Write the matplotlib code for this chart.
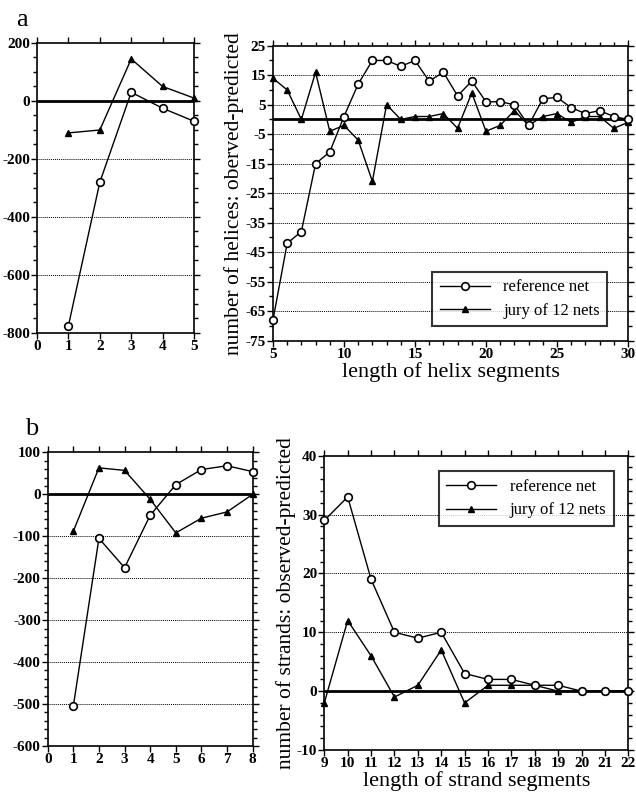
import numpy as np
import matplotlib.pyplot as plt
from matplotlib.ticker import MultipleLocator, FixedLocator

plt.rcParams['font.family'] = ['Liberation Serif', 'DejaVu Serif']
plt.rcParams['axes.unicode_minus'] = False
plt.rcParams['font.weight'] = 'bold'  # tick labels are bold in the scan

# panel a, left: short helices (1-5)
helix_short_x = [1, 2, 3, 4, 5]
helix_short_ref = [-775, -280, 30, -25, -70]
helix_short_jury = [-110, -100, 145, 50, 10]

# panel a, right: helix lengths 5-30
helix_x = list(range(5, 31))
helix_ref = [-68, -42, -38, -15, -11, 1, 12, 20, 20, 18, 20, 13, 16, 8, 13,
             6, 6, 5, -2, 7, 7.5, 4, 2, 3, 1, 0]
helix_jury = [14, 10, 0, 16, -4, -2, -7, -21, 5, 0, 1, 1, 2, -3, 9,
              -4, -2, 3, -2, 1, 2, -1, 1, 1, -3, -1]

# panel b, left: short strands (1-8)
strand_short_x = [1, 2, 3, 4, 5, 6, 7, 8]
strand_short_ref = [-505, -105, -175, -50, 23, 59, 68, 54]
strand_short_jury = [-88, 63, 57, -12, -92, -57, -42, 0]

# panel b, right: strand lengths 9-22
strand_x = list(range(9, 23))
strand_ref = [29, 33, 19, 10, 9, 10, 3, 2, 2, 1, 1, 0, 0, 0]
strand_jury = [-2, 12, 6, -1, 1, 7, -2, 1, 1, 1, 0, 0, 0, 0]

fig = plt.figure(figsize=(6.36, 8.02), dpi=100)


def style(ax, xlim, ylim, yticks, ygrid, yminor, xmajor):
    ax.set_xlim(*xlim)
    ax.set_ylim(*ylim)
    for s in ax.spines.values():
        s.set_linewidth(1.2)
    ax.yaxis.set_major_locator(FixedLocator(yticks))
    ax.yaxis.set_minor_locator(MultipleLocator(yminor))
    ax.xaxis.set_major_locator(MultipleLocator(xmajor))
    ax.tick_params(axis='both', which='both', direction='out', width=1,
                   top=True, right=True, pad=1, labelsize=11)
    ax.tick_params(which='major', length=4)
    ax.tick_params(which='minor', length=3)
    for g in ygrid:
        ax.axhline(g, color='black', lw=0.7, ls=(0, (1, 1)), zorder=1)
    ax.axhline(0, color='black', lw=2, zorder=2)


def draw(ax, x, ref, jury):
    ax.plot(x, ref, color='black', lw=1, marker='o', ms=5.5, mfc='white',
            mec='black', mew=1.2, clip_on=False, zorder=4,
            label='reference net')
    ax.plot(x, jury, color='black', lw=1, marker='^', ms=5, mfc='black',
            mec='black', clip_on=False, zorder=3, label='jury of 12 nets')


def legend(ax, **kw):
    leg = ax.legend(fontsize=12, frameon=True, fancybox=False,
                    edgecolor='black', handlelength=3.0, borderpad=0.45,
                    labelspacing=0.45, prop={'weight': 'normal', 'size': 12},
                    **kw)
    leg.get_frame().set_linewidth(1.5)


# ---- a left
ax1 = fig.add_axes([0.0582, 0.5848, 0.2469, 0.3616])
draw(ax1, helix_short_x, helix_short_ref, helix_short_jury)
style(ax1, (0, 5), (-800, 200), [-800, -600, -400, -200, 0, 200],
      [-200, -400, -600], 50, 1)

# ---- a right
ax2 = fig.add_axes([0.4292, 0.5752, 0.5582, 0.3678])
draw(ax2, helix_x, helix_ref, helix_jury)
style(ax2, (5, 30), (-75, 25), list(range(-75, 26, 10)),
      list(range(-65, 16, 10)), 5, 5)
ax2.xaxis.set_minor_locator(MultipleLocator(1))
ax2.set_xlabel('length of helix segments', fontsize=16, fontweight='normal',
               labelpad=1)
ax2.set_ylabel('number of helices: oberved-predicted', fontsize=15.5,
               fontweight='normal', labelpad=1)
legend(ax2, loc='lower right', bbox_to_anchor=(0.965, 0.02))

# ---- b left
ax3 = fig.add_axes([0.075, 0.0698, 0.3223, 0.3662])
draw(ax3, strand_short_x, strand_short_ref, strand_short_jury)
style(ax3, (0, 8), (-600, 100), list(range(-600, 101, 100)),
      [-100, -200, -300, -400, -500], 20, 1)

# ---- b right
ax4 = fig.add_axes([0.5099, 0.0648, 0.478, 0.367])
draw(ax4, strand_x, strand_ref, strand_jury)
style(ax4, (9, 22), (-10, 40), [-10, 0, 10, 20, 30, 40],
      [10, 20, 30], 2, 1)
ax4.set_xlabel('length of strand segments', fontsize=16, fontweight='normal',
               labelpad=1)
ax4.set_ylabel('number of strands: observed-predicted', fontsize=15.5,
               fontweight='normal', labelpad=1)
legend(ax4, loc='upper right', bbox_to_anchor=(0.98, 0.975))

fig.text(0.025, 0.975, 'a', fontsize=19, fontweight='normal', va='center')
fig.text(0.04, 0.465, 'b', fontsize=19, fontweight='normal', va='center')

fig.savefig('out.png', dpi=100)
